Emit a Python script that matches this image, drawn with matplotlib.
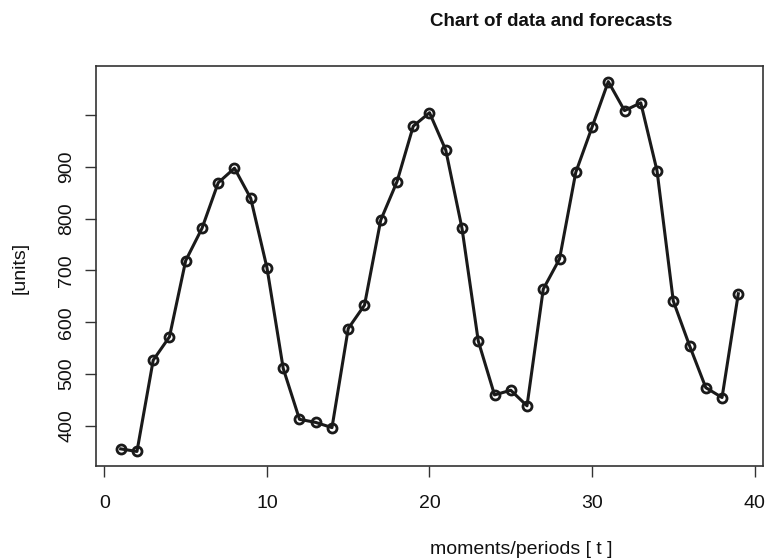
import matplotlib
matplotlib.use("Agg")
import matplotlib.pyplot as plt

t = list(range(1, 40))
units = [356, 351, 527, 572, 719, 781, 869, 897, 839, 705,
         511, 413, 407, 397, 588, 633, 797, 871, 978, 1004,
         932, 781, 564, 460, 469, 439, 664, 722, 889, 976,
         1064, 1008, 1023, 892, 641, 555, 474, 455, 655]
xticks = [0, 10, 20, 30, 40]
yticks = [400, 500, 600, 700, 800, 900, 1000]
yticklabels = ["400", "500", "600", "700", "800", "900", ""]

plt.rcParams['font.family'] = ['Liberation Sans', 'DejaVu Sans']

fig = plt.figure(figsize=(7.75, 5.6), dpi=100)
ax = fig.add_axes([96/775, 1-466/560, (763-96)/775, (466-66)/560])
ax.plot(t, units, color='#1a1a1a', lw=2.2, marker='o', ms=6.5,
        mfc='none', mew=2.0, mec='#1a1a1a')
ax.set_xlim(-0.52, 40.52)
ax.set_ylim(323, 1094)
ax.set_xticks(xticks)
ax.set_yticks(yticks)
ax.set_yticklabels(yticklabels, rotation=90, va='center')
ax.tick_params(axis='both', direction='out', length=8, width=1, colors='#333333',
               labelsize=14, labelcolor='#111111')
ax.tick_params(axis='x', pad=13)
ax.tick_params(axis='y', pad=7)
for s in ax.spines.values():
    s.set_color('#333333')
    s.set_linewidth(1.2)

fig.text(430/775, 1-21/560, "Chart of data and forecasts", ha='left', va='center',
         fontsize=13.5, fontweight='bold', color='#111111')
fig.text(430/775, 1-549/560, "moments/periods [ t ]", ha='left', va='center',
         fontsize=14, color='#111111')
fig.text(20/775, 1-268/560, "[units]", ha='center', va='center', rotation=90,
         fontsize=14, color='#111111')

fig.savefig("out.png", dpi=100)
